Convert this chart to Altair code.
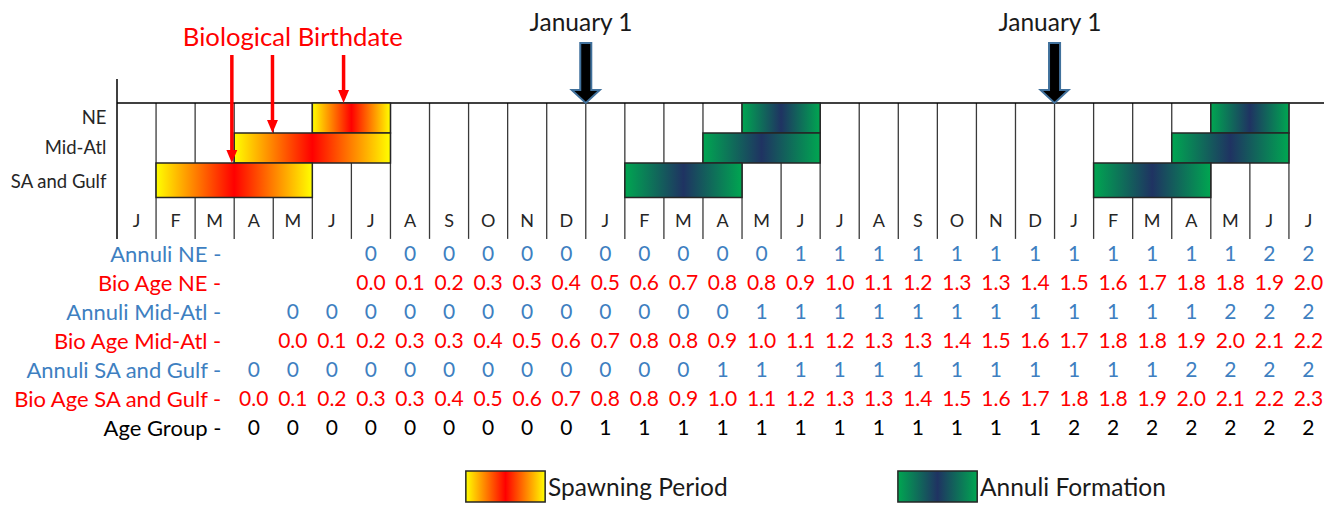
import altair as alt
import pandas as pd

# ---------------- data ----------------
months = ["J", "F", "M", "A", "M", "J", "J", "A", "S", "O", "N", "D",
          "J", "F", "M", "A", "M", "J", "J", "A", "S", "O", "N", "D",
          "J", "F", "M", "A", "M", "J", "J"]

regions = ["NE", "Mid-Atl", "SA and Gulf"]
region_top = [0.0, 1.0, 2.0]
region_bottom = [1.0, 2.0, 3.15]
region_label_y = [0.5, 1.5, 2.62]

spawn_start = [5, 3, 1]
spawn_end = [7, 7, 5]

annuli_region = [0, 1, 2, 0, 1, 2]
annuli_start = [16, 15, 13, 28, 27, 25]
annuli_end = [18, 18, 16, 30, 30, 28]

birthdate_x = [5.8, 3.98, 2.94]
jan1_x = [12, 24]

annuli_ne = ["0", "0", "0", "0", "0", "0", "0", "0", "0", "0", "0",
             "1", "1", "1", "1", "1", "1", "1", "1", "1", "1", "1", "1",
             "2", "2"]
bio_ne = ["0.0", "0.1", "0.2", "0.3", "0.3", "0.4", "0.5", "0.6", "0.7", "0.8", "0.8",
          "0.9", "1.0", "1.1", "1.2", "1.3", "1.3", "1.4", "1.5", "1.6", "1.7", "1.8",
          "1.8", "1.9", "2.0"]
annuli_mid = ["0", "0", "0", "0", "0", "0", "0", "0", "0", "0", "0", "0",
              "1", "1", "1", "1", "1", "1", "1", "1", "1", "1", "1", "1",
              "2", "2", "2"]
bio_mid = ["0.0", "0.1", "0.2", "0.3", "0.3", "0.4", "0.5", "0.6", "0.7", "0.8", "0.8",
           "0.9", "1.0", "1.1", "1.2", "1.3", "1.3", "1.4", "1.5", "1.6", "1.7", "1.8",
           "1.8", "1.9", "2.0", "2.1", "2.2"]
annuli_sa = ["0", "0", "0", "0", "0", "0", "0", "0", "0", "0", "0", "0",
             "1", "1", "1", "1", "1", "1", "1", "1", "1", "1", "1", "1",
             "2", "2", "2", "2"]
bio_sa = ["0.0", "0.1", "0.2", "0.3", "0.3", "0.4", "0.5", "0.6", "0.7", "0.8", "0.8",
          "0.9", "1.0", "1.1", "1.2", "1.3", "1.3", "1.4", "1.5", "1.6", "1.7", "1.8",
          "1.8", "1.9", "2.0", "2.1", "2.2", "2.3"]
age_group = ["0", "0", "0", "0", "0", "0", "0", "0", "0",
             "1", "1", "1", "1", "1", "1", "1", "1", "1", "1", "1", "1",
             "2", "2", "2", "2", "2", "2", "2"]

BLUE = "#3E7FC1"
RED = "#FF0000"
BLACK = "#000000"
DARK = "#262626"

table_labels = ["Annuli NE -", "Bio Age NE -", "Annuli Mid-Atl -", "Bio Age Mid-Atl -",
                "Annuli SA and Gulf -", "Bio Age SA and Gulf -", "Age Group -"]
table_values = [annuli_ne, bio_ne, annuli_mid, bio_mid, annuli_sa, bio_sa, age_group]
table_start = [6, 6, 4, 4, 3, 3, 3]
table_colors = [BLUE, RED, BLUE, RED, BLUE, RED, BLACK]
table_y = [5.07, 6.03, 7.0, 7.97, 8.93, 9.9, 10.87]

legend_labels = ["Spawning Period", "Annuli Formation"]
legend_x = [8.93, 19.99]
legend_x2 = [10.96, 22.02]

FONT = "Lato"
W, H = 1316, 496
XS = alt.Scale(domain=[0, 31], range=[109, 1320])
YS = alt.Scale(domain=[-95 / 30, (H - 95) / 30], range=[0, H])


def X(f):
    return alt.X(f, type="quantitative", scale=XS, axis=None)


def X2(f):
    return alt.X2(f)


def Y(f):
    return alt.Y(f, type="quantitative", scale=YS, axis=None)


def Y2(f):
    return alt.Y2(f)


spawn_grad = alt.LinearGradient(
    gradient="linear", x1=0, x2=1, y1=0, y2=0,
    stops=[alt.GradientStop(color="#FFFF00", offset=0),
           alt.GradientStop(color="#FF0000", offset=0.5),
           alt.GradientStop(color="#FFFF00", offset=1)])
annuli_grad = alt.LinearGradient(
    gradient="linear", x1=0, x2=1, y1=0, y2=0,
    stops=[alt.GradientStop(color="#00A651", offset=0),
           alt.GradientStop(color="#1F3362", offset=0.5),
           alt.GradientStop(color="#00A651", offset=1)])

# ---------------- tables ----------------
grid_bottom = 4.53
vlines = pd.DataFrame({"x": list(range(1, 32)), "y": [0.0] * 31, "y2": [grid_bottom] * 31})
axis_line = pd.DataFrame({"x": [0], "y": [-0.8], "y2": [grid_bottom]})
top_line = pd.DataFrame({"x": [0], "x2": [31], "y": [0.0]})

month_df = pd.DataFrame({"x": [i + 0.5 for i in range(len(months))],
                         "y": [3.97] * len(months), "t": months})
region_df = pd.DataFrame({"x": [-0.27] * 3, "y": region_label_y, "t": regions})

spawn_df = pd.DataFrame({"x": spawn_start, "x2": spawn_end,
                         "y": region_top, "y2": region_bottom})
annuli_df = pd.DataFrame({"x": annuli_start, "x2": annuli_end,
                          "y": [region_top[r] for r in annuli_region],
                          "y2": [region_bottom[r] for r in annuli_region]})

rows = []
for lab, vals, st, col, yy in zip(table_labels, table_values, table_start, table_colors, table_y):
    for k, v in enumerate(vals):
        rows.append({"x": st + k + 0.5, "y": yy, "t": v, "c": col})
table_df = pd.DataFrame(rows)
tlabel_df = pd.DataFrame({"x": [2.67] * 7, "y": table_y, "t": table_labels, "c": table_colors})

bd_df = pd.DataFrame({"x": birthdate_x, "y": [-1.6] * 3,
                      "tip": region_top, "y2": [t - 0.4 for t in region_top]})
jan_df = pd.DataFrame({"x": jan1_x, "y": [0.0, 0.0], "tx": [j - 0.12 for j in jan1_x],
                       "ty": [-2.63, -2.63], "t": ["January 1", "January 1"]})

leg_df = pd.DataFrame({"x": legend_x, "x2": legend_x2, "y": [12.27, 12.27],
                       "y2": [13.3, 13.3], "tx": [l + 0.07 for l in legend_x2],
                       "ty": [12.86, 12.86], "t": legend_labels})

# ---------------- layers ----------------
l_v = alt.Chart(vlines).mark_rule(color="#3A3A3A", strokeWidth=1.3).encode(
    x=X("x"), y=Y("y"), y2=Y2("y2"))
l_ax = alt.Chart(axis_line).mark_rule(color="#000000", strokeWidth=1.5).encode(
    x=X("x"), y=Y("y"), y2=Y2("y2"))
l_top = alt.Chart(top_line).mark_rule(color="#000000", strokeWidth=1.5).encode(
    x=X("x"), x2=X2("x2"), y=Y("y"))

l_spawn = alt.Chart(spawn_df).mark_rect(fill=spawn_grad, stroke="#262626", strokeWidth=1.5).encode(
    x=X("x"), x2=X2("x2"), y=Y("y"), y2=Y2("y2"))
l_ann = alt.Chart(annuli_df).mark_rect(fill=annuli_grad, stroke="#262626", strokeWidth=1.5).encode(
    x=X("x"), x2=X2("x2"), y=Y("y"), y2=Y2("y2"))

l_month = alt.Chart(month_df).mark_text(font=FONT, fontSize=18, color=DARK, baseline="middle").encode(
    x=X("x"), y=Y("y"), text="t:N")
l_region = alt.Chart(region_df).mark_text(font=FONT, fontSize=18.5, color=DARK, align="right",
                                          baseline="middle").encode(x=X("x"), y=Y("y"), text="t:N")

l_tab = alt.Chart(table_df).mark_text(font=FONT, fontSize=21, baseline="middle").encode(
    x=X("x"), y=Y("y"), text="t:N", color=alt.Color("c:N", scale=None))
l_tlab = alt.Chart(tlabel_df).mark_text(font=FONT, fontSize=22, align="right", baseline="middle").encode(
    x=X("x"), y=Y("y"), text="t:N", color=alt.Color("c:N", scale=None))

l_bd_rule = alt.Chart(bd_df).mark_rule(color=RED, strokeWidth=3.5).encode(
    x=X("x"), y=Y("y"), y2=Y2("y2"))
l_bd_head = alt.Chart(bd_df).mark_point(
    shape="M -0.42 -1 L 0.42 -1 L 0 0 Z", size=676, filled=True, fill=RED, opacity=1,
    strokeWidth=0).encode(x=X("x"), y=Y("tip"))
l_bd_text = alt.Chart(pd.DataFrame({"x": [4.5], "y": [-2.17], "t": ["Biological Birthdate"]})).mark_text(
    font=FONT, fontSize=25.7, color=RED, baseline="middle").encode(x=X("x"), y=Y("y"), text="t:N")

l_jan = alt.Chart(jan_df).mark_point(
    shape="M -0.092 -1 L 0.092 -1 L 0.092 -0.217 L 0.233 -0.217 L 0 0 L -0.233 -0.217 L -0.092 -0.217 Z",
    size=14400, filled=True, fill="#000000", stroke="#41719C", strokeWidth=2, opacity=1).encode(
    x=X("x"), y=Y("y"))
l_jan_text = alt.Chart(jan_df).mark_text(font=FONT, fontSize=24.5, color="#1A1A1A", baseline="middle").encode(
    x=X("tx"), y=Y("ty"), text="t:N")

l_leg_s = alt.Chart(leg_df.iloc[[0]]).mark_rect(fill=spawn_grad, stroke="#262626", strokeWidth=1.5).encode(
    x=X("x"), x2=X2("x2"), y=Y("y"), y2=Y2("y2"))
l_leg_a = alt.Chart(leg_df.iloc[[1]]).mark_rect(fill=annuli_grad, stroke="#262626", strokeWidth=1.5).encode(
    x=X("x"), x2=X2("x2"), y=Y("y"), y2=Y2("y2"))
l_leg_t = alt.Chart(leg_df).mark_text(font=FONT, fontSize=24.5, color="#1A1A1A", align="left",
                                      baseline="middle").encode(x=X("tx"), y=Y("ty"), text="t:N")

chart = alt.layer(
    l_v, l_ax, l_top, l_spawn, l_ann, l_month, l_region, l_tab, l_tlab,
    l_bd_rule, l_bd_head, l_bd_text, l_jan, l_jan_text, l_leg_s, l_leg_a, l_leg_t
).properties(
    width=W, height=H, padding=0, autosize=alt.AutoSizeParams(type="none"),
    background="white"
).configure_view(stroke=None)

chart.save("out.html", embed_options={"renderer": "svg", "actions": False})
